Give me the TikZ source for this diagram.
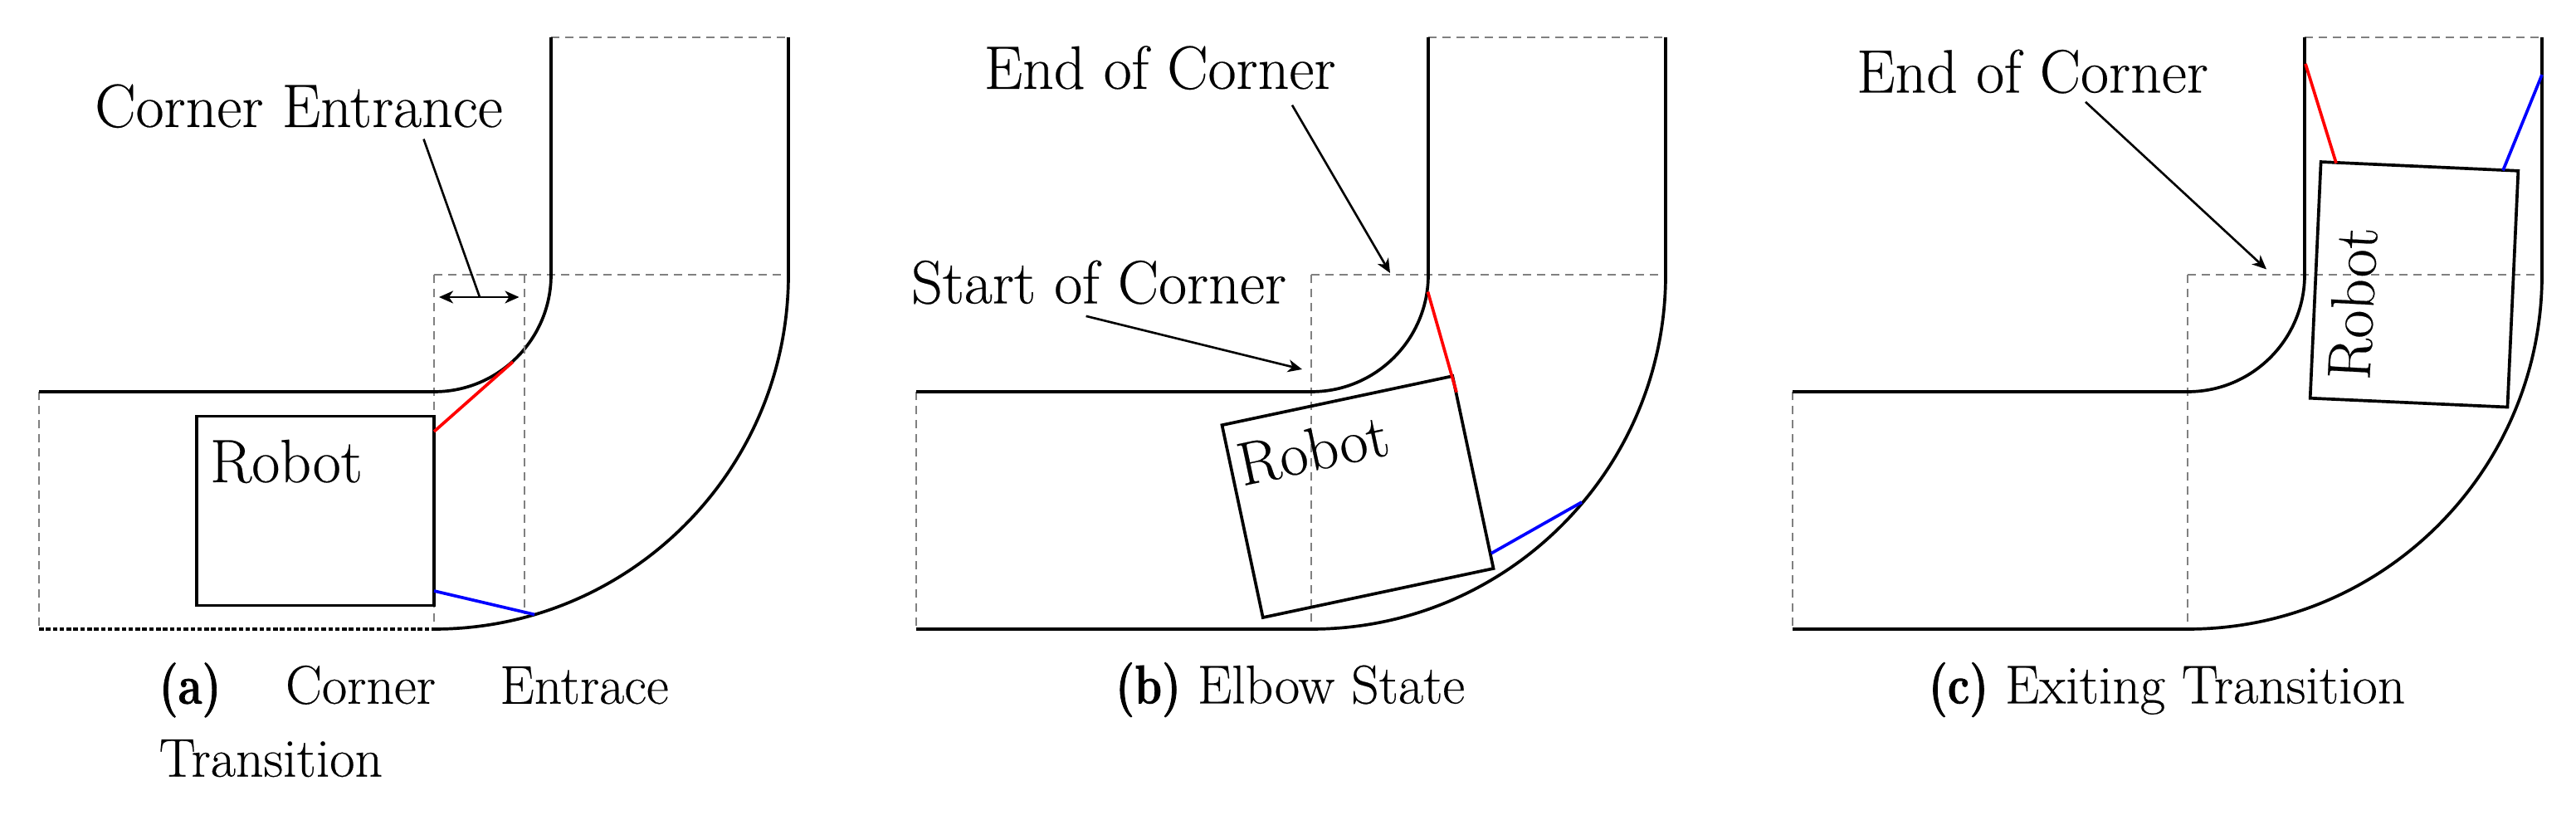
\documentclass[tikz,border=0pt]{standalone}
\usepackage{fontspec}
\setmainfont{Latin Modern Roman}[FakeBold=0.3,BoldFeatures={FakeStretch=0.8,FakeBold=1.2}]
\usetikzlibrary{arrows.meta}
\tikzset{
  wall/.style={line width=1.05pt},
  basesolid/.style={line width=1.4pt},
  basedotted/.style={line width=1.4pt,dash pattern=on 0.055cm off 0.028cm},
  guide/.style={line width=0.5pt,gray,dash pattern=on 0.10cm off 0.07cm},
  robotbox/.style={draw,line width=1.05pt,inner sep=0pt,outer sep=0pt},
  sensorred/.style={line width=1.05pt,red},
  sensorblue/.style={line width=1.05pt,blue},
  callout/.style={line width=0.75pt,>={Stealth[length=0.17cm,width=0.15cm,inset=0.05cm]}},
  bigtext/.style={inner sep=0pt,font=\fontsize{21}{25}\selectfont},
  captiontext/.style={inner sep=0pt,font=\fontsize{18.7}{25}\selectfont}
}
\begin{document}
\begin{tikzpicture}
  \useasboundingbox (0,0) rectangle (31.04,9.88);
  \foreach \shiftx/\basestyle in {0/basedotted,10.57/basesolid,21.13/basesolid} {
    \begin{scope}[xshift=\shiftx cm]
      \draw[guide] (6.64,9.43) -- (9.50,9.43);
      \draw[guide] (5.23,6.57) -- (9.50,6.57);
      \draw[guide] (5.23,6.57) -- (5.23,2.30);
      \draw[guide] (0.47,5.16) -- (0.47,2.30);
      \draw[wall] (6.64,9.43) -- (6.64,6.57) arc[start angle=0,end angle=-90,radius=1.41] -- (0.47,5.16);
      \draw[wall] (9.50,9.43) -- (9.50,6.57) arc[start angle=0,end angle=-90,radius=4.27];
      \draw[\basestyle] (0.47,2.30) -- (5.23,2.30);
    \end{scope}
  }
  \draw[guide] (6.32,6.57) -- (6.32,2.476);

  \node[robotbox,minimum width=2.86cm,minimum height=2.28cm] (robota) at (3.80,3.724) {};
  \node[robotbox,minimum width=2.84cm,minimum height=2.37cm,rotate=12] (robotb) at (16.36,3.894) {};
  \node[robotbox,minimum width=2.38cm,minimum height=2.85cm,rotate=-2.6] (robotc) at (29.09,6.452) {};

  \node[bigtext,anchor=base] (roboa) at (3.45,4.07) {Robot};
  \node[bigtext,rotate=12] (robob) at (15.82,4.46) {Robot};
  \node[bigtext,rotate=87] (roboc) at (28.35,6.225) {Robot};

  \coordinate (redwalla) at (6.18,5.52);
  \coordinate (redboxa) at (5.23,4.68);
  \coordinate (bluewalla) at (6.44,2.476);
  \coordinate (blueboxa) at (5.23,2.76);
  \coordinate (redwallb) at (17.205,6.364);
  \coordinate (redboxb) at (17.55,5.154);
  \coordinate (bluewallb) at (19.06,3.83);
  \coordinate (blueboxb) at (17.97,3.213);
  \coordinate (redwallc) at (27.78,9.111);
  \coordinate (redboxc) at (28.15,7.914);
  \coordinate (bluewallc) at (30.63,8.98);
  \coordinate (blueboxc) at (30.16,7.826);
  \begin{scope}[sensorred]
    \draw (redboxa) to (redwalla);
    \draw (redboxb) to (redwallb);
    \draw (redboxc) to (redwallc);
  \end{scope}
  \begin{scope}[sensorblue]
    \draw (blueboxa) to (bluewalla);
    \draw (blueboxb) to (bluewallb);
    \draw (blueboxc) to (bluewallc);
  \end{scope}

  \node[bigtext,anchor=base] (lblentrance) at (3.60,8.35) {Corner Entrance};
  \node[bigtext,anchor=base] (lblendb) at (13.976,8.81) {End of Corner};
  \node[bigtext,anchor=base] (lblstartb) at (13.24,6.225) {Start of Corner};
  \node[bigtext,anchor=base] (lblendc) at (24.49,8.765) {End of Corner};

  \coordinate (widthleft) at (5.29,6.30);
  \coordinate (widthright) at (6.255,6.30);
  \coordinate (widthmid) at (5.78,6.30);
  \coordinate (endb) at (16.75,6.59);
  \coordinate (startb) at (15.69,5.43);
  \coordinate (endc) at (27.31,6.635);
  \begin{scope}[callout]
    \draw[<->] (widthleft) to (widthright);
    \draw ([xshift=1.505cm,yshift=-1.27mm]lblentrance.south) to (widthmid);
    \draw[->] ([xshift=1.594cm,yshift=-1.78mm]lblendb.south) to (endb);
    \draw[->] ([xshift=-0.154cm,yshift=-1.35mm]lblstartb.south) to (startb);
    \draw[->] ([xshift=0.64cm,yshift=-0.95mm]lblendc.south) to (endc);
  \end{scope}

  \node[captiontext,anchor=base west,align=left] (capa) at (1.91,0.523)
    {\makebox[6.14cm][s]{\textbf{(a)}\hfil Corner\hfil Entrace}\\Transition};
  \node[captiontext,anchor=base] (capb) at (15.546,1.405) {\textbf{(b)} Elbow State};
  \node[captiontext,anchor=base] (capc) at (26.11,1.405) {\textbf{(c)} Exiting Transition};
\end{tikzpicture}
\end{document}
